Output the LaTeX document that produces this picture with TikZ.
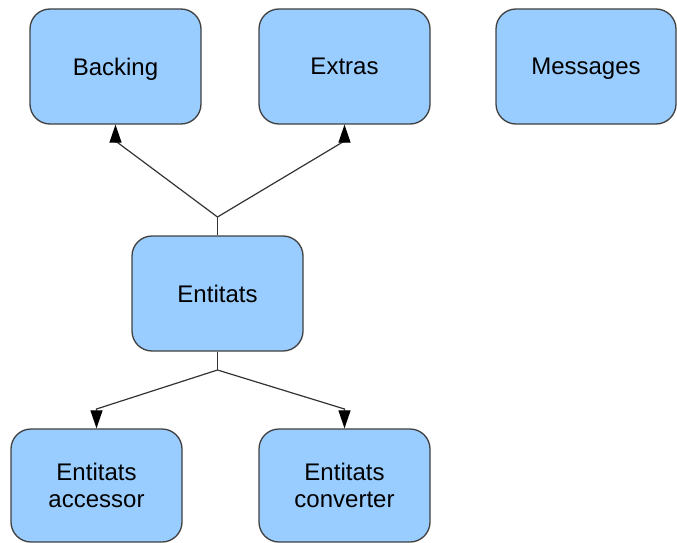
\documentclass[tikz,border=0pt]{standalone}
\usepackage{fontspec}
\setmainfont{Liberation Sans}
\usetikzlibrary{arrows.meta}
\definecolor{boxfill}{HTML}{99CCFF}
\definecolor{boxline}{HTML}{404040}
\definecolor{wire}{HTML}{333333}
\begin{document}
\begin{tikzpicture}[x=1pt,y=-1pt,
  box/.style={draw=boxline,fill=boxfill,line width=1.3pt,rounded corners=20pt,
    minimum width=171pt,minimum height=115pt,inner sep=0pt,align=center,
    text depth=0pt,font=\fontsize{24}{27}\selectfont,text=black},
  wirestyle/.style={draw=wire,line width=1.2pt},
  arr/.style={wirestyle,-{Triangle[length=18pt,width=12pt,color=black]}}]
\useasboundingbox (0,0) rectangle (677,543);
\node[box] (bk) at (115.5,66.5) {Backing};
\node[box] (ex) at (344.5,66.5) {Extras};
\node[box,minimum width=180pt] (ms) at (586,66.5) {Messages};
\node[box] (en) at (217.5,293.5) {Entitats};
\node[box,minimum height=113pt] (ac) at (96.5,485.5) {Entitats\\accessor};
\node[box,minimum height=113pt] (cv) at (344.5,485.5) {Entitats\\converter};
\coordinate (j1) at (217.5,217);
\coordinate (j2) at (217.5,370);
\coordinate (b1) at (115.5,141);
\coordinate (b2) at (344.5,141);
\coordinate (b3) at (96.5,409);
\coordinate (b4) at (344.5,409);
\draw[wirestyle] (en.north) -- (j1);
\draw[arr] (j1) -- (b1) -- (bk.south);
\draw[arr] (j1) -- (b2) -- (ex.south);
\draw[wirestyle] (en.south) -- (j2);
\draw[arr] (j2) -- (b3) -- (ac.north);
\draw[arr] (j2) -- (b4) -- (cv.north);
\end{tikzpicture}
\end{document}
